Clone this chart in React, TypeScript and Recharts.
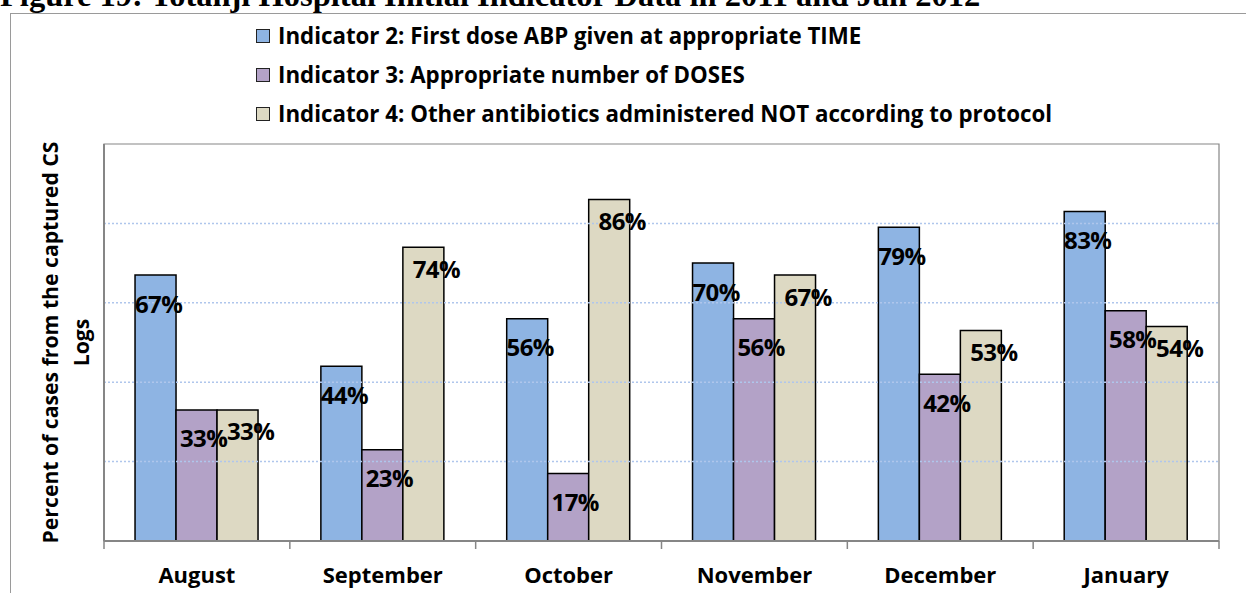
import React from "react";
import {
  BarChart,
  Bar,
  XAxis,
  YAxis,
  ReferenceArea,
  ReferenceLine,
  Legend,
  LabelList,
} from "recharts";

const months = ["August", "September", "October", "November", "December", "January"];
const indicator2 = [67, 44, 56, 70, 79, 83];
const indicator3 = [33, 23, 17, 56, 42, 58];
const indicator4 = [33, 74, 86, 67, 53, 54];
const yTicks = [0, 20, 40, 60, 80, 100];
const gridValues = [20, 40, 60, 80];

const seriesNames = [
  "Indicator 2: First dose ABP given at appropriate TIME",
  "Indicator 3: Appropriate number of DOSES",
  "Indicator 4: Other antibiotics administered NOT according to protocol",
];
const seriesColors = ["#8EB4E3", "#B3A2C7", "#DDD9C3"];
const titleText = "Figure 19: Totanji Hospital Initial Indicator Data in 2011 and Jan 2012";
const yLabelLines = ["Percent of cases from the captured CS", "Logs"];

const data = months.map((m, i) => ({
  month: m,
  i2: indicator2[i],
  i3: indicator3[i],
  i4: indicator4[i],
}));

const FONT = "'Open Sans', Lato, sans-serif";

const makeBarLabel = (dx: number, dy: number) => (props: any) => {
  const { x, y, width, value } = props;
  return (
    <text
      x={Number(x) + Number(width) / 2 + dx}
      y={Number(y) + dy}
      textAnchor="middle"
      dominantBaseline="central"
      fontFamily={FONT}
      fontWeight={700}
      fontSize={24}
      letterSpacing={-0.6}
      fill="#000"
    >
      {value}%
    </text>
  );
};
const Label2 = makeBarLabel(3, 28);
const Label3 = makeBarLabel(7, 28);
const Label4 = makeBarLabel(13, 21);

const XTick = (props: any) => {
  const { x, y, payload, index, visibleTicksCount } = props;
  const half = payload && payload.offset ? payload.offset : 92.9;
  const isLast = index === (visibleTicksCount ?? months.length) - 1;
  const axisY = y - 8;
  return (
    <g>
      <line x1={x - half} y1={axisY} x2={x - half} y2={axisY + 8} stroke="#868686" strokeWidth={1.5} />
      {isLast && (
        <line x1={x + half} y1={axisY} x2={x + half} y2={axisY + 8} stroke="#868686" strokeWidth={1.5} />
      )}
      <text
        x={x}
        y={axisY + 42}
        textAnchor="middle"
        fontFamily={FONT}
        fontWeight={700}
        fontSize={22}
        fill="#000"
      >
        {payload.value}
      </text>
    </g>
  );
};

const YLabel = (props: any) => {
  const vb = props.viewBox || {};
  const cy = vb.y + vb.height / 2;
  const xs = [49, 80];
  return (
    <g>
      {yLabelLines.map((t, k) => {
        const xx = xs[k];
        return (
          <text
            key={k}
            x={xx}
            y={cy}
            transform={`rotate(-90 ${xx} ${cy})`}
            textAnchor="middle"
            dominantBaseline="central"
            fontFamily={FONT}
            fontWeight={700}
            fontSize={21.2}
            fill="#000"
          >
            {t}
          </text>
        );
      })}
    </g>
  );
};

const LegendContent = () => (
  <div style={{ fontFamily: FONT, fontWeight: 700, fontSize: 22.3, color: "#000", height: 112 }}>
    {seriesNames.map((n, k) => (
      <div
        key={k}
        style={{ display: "flex", alignItems: "center", height: 39, whiteSpace: "nowrap" }}
      >
        <span
          style={{
            display: "inline-block",
            width: 12,
            height: 12,
            background: seriesColors[k],
            border: "1.5px solid #222",
            marginRight: 8,
          }}
        />
        <span>{n}</span>
      </div>
    ))}
  </div>
);

export default function App() {
  return (
    <div
      style={{
        position: "absolute",
        left: 0,
        top: 0,
        width: 1246,
        height: 593,
        overflow: "hidden",
        background: "#fff",
      }}
    >
      <div
        style={{
          position: "absolute",
          left: 0,
          top: -23,
          fontFamily: "'Liberation Serif', 'Times New Roman', serif",
          fontWeight: 700,
          fontSize: 32.5,
          whiteSpace: "nowrap",
          lineHeight: "36px",
          color: "#000",
        }}
      >
        {titleText}
      </div>
      <div
        style={{
          position: "absolute",
          left: 10,
          top: 13,
          width: 1400,
          height: 700,
          borderLeft: "1.5px solid #9a9a9a",
          borderTop: "1.5px solid #9a9a9a",
        }}
      />
      <div style={{ position: "absolute", left: 0, top: 0 }}>
        <BarChart
          width={1246}
          height={593}
          data={data}
          margin={{ top: 32, right: 27, bottom: 0, left: 44 }}
          barCategoryGap="16.7%"
          barGap={0}
        >
          {gridValues.map((v) => (
            <ReferenceLine
              key={v}
              y={v}
              stroke="#AFC6EC"
              strokeDasharray="2 2"
              strokeWidth={1.5}
            />
          ))}
          <ReferenceArea
            y1={0}
            y2={100}
            fill="none"
            fillOpacity={0}
            stroke="#868686"
            strokeWidth={1.2}
            ifOverflow="visible"
          />
          <XAxis
            dataKey="month"
            height={52}
            axisLine={{ stroke: "#868686", strokeWidth: 2 }}
            tickLine={false}
            tick={<XTick />}
            interval={0}
          />
          <YAxis
            width={60}
            domain={[0, 100]}
            ticks={yTicks}
            tick={false}
            tickLine={false}
            axisLine={{ stroke: "#868686", strokeWidth: 2 }}
            label={<YLabel />}
          />
          <Legend
            verticalAlign="top"
            align="left"
            content={<LegendContent />}
            wrapperStyle={{ position: "absolute", top: 16, left: 256, width: "auto", height: 112 }}
          />
          <Bar dataKey="i2" name={seriesNames[0]} fill={seriesColors[0]} stroke="#000" strokeWidth={1.5} isAnimationActive={false}>
            <LabelList dataKey="i2" content={Label2} />
          </Bar>
          <Bar dataKey="i3" name={seriesNames[1]} fill={seriesColors[1]} stroke="#000" strokeWidth={1.5} isAnimationActive={false}>
            <LabelList dataKey="i3" content={Label3} />
          </Bar>
          <Bar dataKey="i4" name={seriesNames[2]} fill={seriesColors[2]} stroke="#000" strokeWidth={1.5} isAnimationActive={false}>
            <LabelList dataKey="i4" content={Label4} />
          </Bar>
        </BarChart>
      </div>
    </div>
  );
}
